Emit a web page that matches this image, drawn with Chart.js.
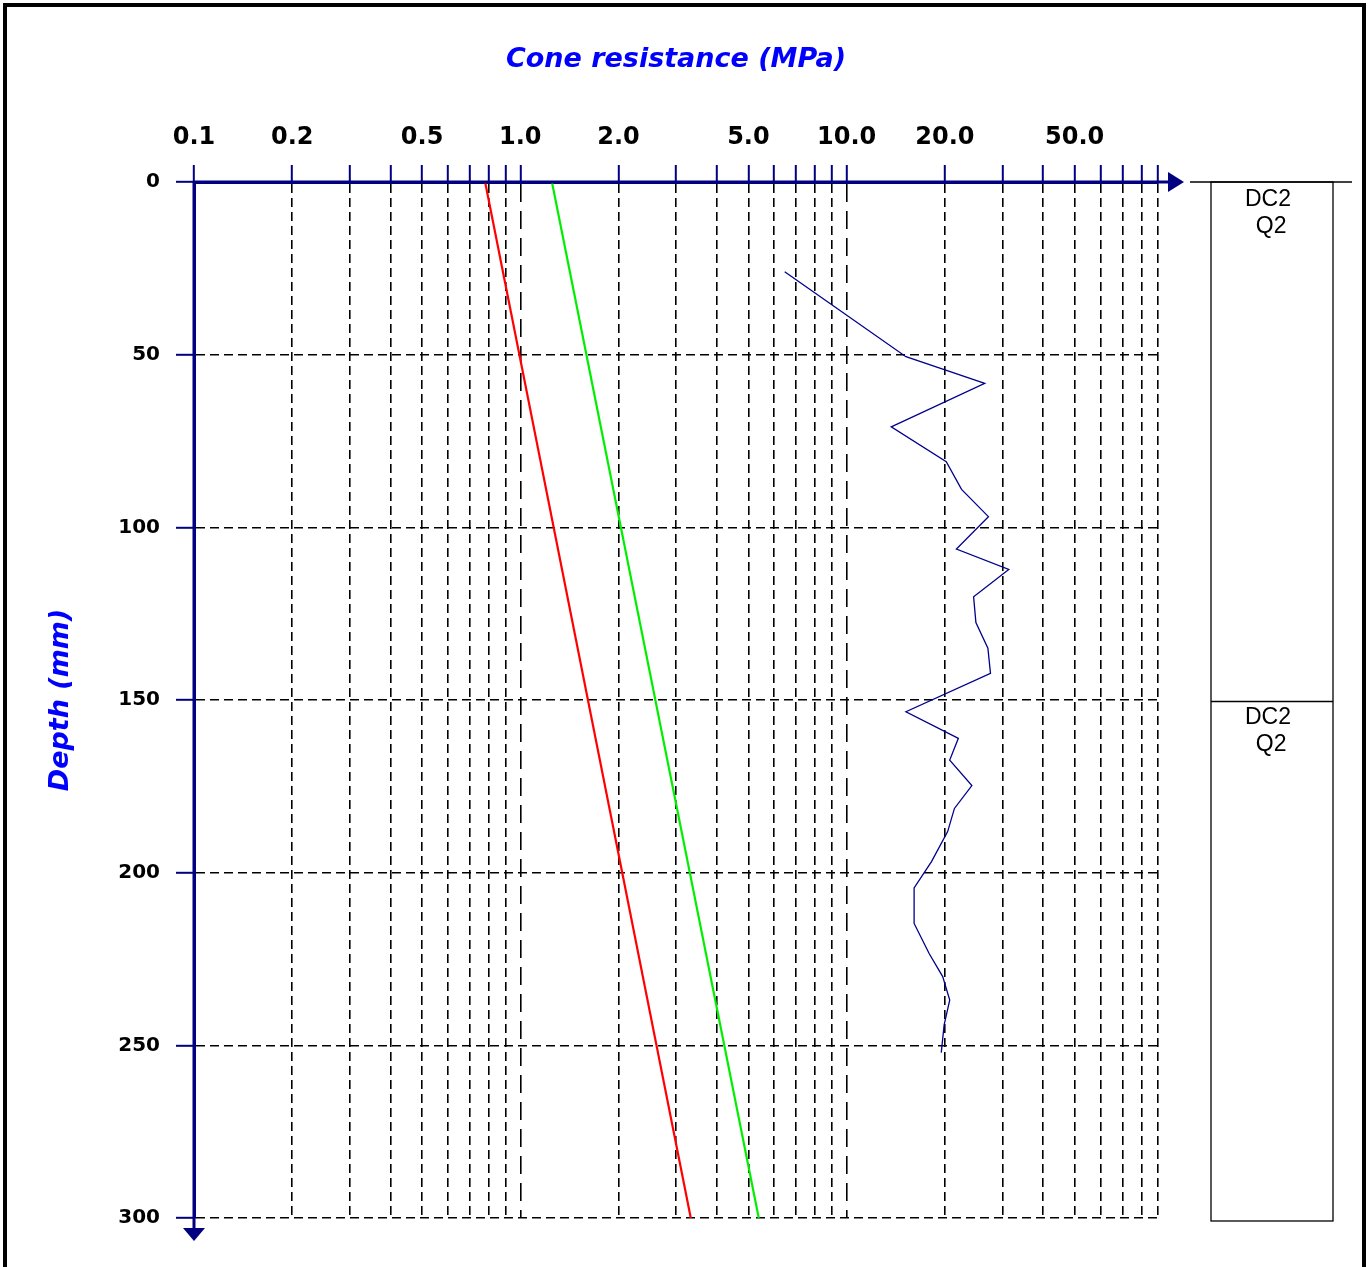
<!DOCTYPE html>
<html>
<head>
<meta charset="utf-8">
<title>Cone resistance</title>
<script src="https://cdn.jsdelivr.net/npm/chart.js@4.4.0/dist/chart.umd.min.js"></script>
<style>
  body { margin: 0; background: #fff; overflow: hidden; }
  #frame {
    position: absolute; left: 3px; top: 3px;
    width: 1363px; height: 1320px;
    box-sizing: border-box; border: 4px solid #000;
  }
  #cpt { position: absolute; left: 0; top: 0; }
</style>
</head>
<body>
<div id="frame"></div>
<canvas id="cpt" width="1372" height="1267"></canvas>
<script>
// measured cone resistance (blue trace)
const depthBlue = [26, 50.6, 58.3, 70.9, 81, 89, 96.9, 106.3, 112.2, 120.1, 127.6, 135, 142.3,
  153.4, 161.1, 167.4, 174.8, 181.4, 188.1, 196.8, 204.4, 214.7, 223.4, 230.1, 236.9, 244.1, 252.1];
const qcBlue = [6.46, 15.2, 26.5, 13.7, 20.2, 22.5, 27.2, 21.7, 31.4, 24.5, 24.9, 27.1, 27.6,
  15.2, 22.0, 20.7, 24.2, 21.4, 20.4, 18.2, 16.1, 16.1, 17.9, 19.7, 20.7, 19.9, 19.5];

// trend lines (red and green)
const depthTrend = [0, 300];
const qcRed = [0.78, 3.33];
const qcGreen = [1.25, 5.38];

// axes
const xGridValues = [0.1, 0.2, 0.3, 0.4, 0.5, 0.6, 0.7, 0.8, 0.9,
  1, 2, 3, 4, 5, 6, 7, 8, 9,
  10, 20, 30, 40, 50, 60, 70, 80, 90];
const xLabelValues = [0.1, 0.2, 0.5, 1, 2, 5, 10, 20, 50];
const xLabelText = ["0.1", "0.2", "0.5", "1.0", "2.0", "5.0", "10.0", "20.0", "50.0"];
const xLongDash = [1, 10];
const depthTicks = [0, 50, 100, 150, 200, 250, 300];

// layer column on the right
const layerTop = [0, 150];
const layerBottom = [150, 300];
const layerText = [["DC2", " Q2"], ["DC2", " Q2"]];

const NAVY = "#000080";

function toPoints(xs, ys) {
  return xs.map((v, i) => ({ x: v, y: ys[i] }));
}

// axis lines with arrows + layer column
const decorPlugin = {
  id: "decor",
  afterDraw(chart) {
    const c = chart.ctx;
    const xs = chart.scales.x;
    const ys = chart.scales.y;
    const x0 = xs.getPixelForValue(0.1);
    const y0 = ys.getPixelForValue(0);
    const yEnd = ys.getPixelForValue(300);

    c.save();
    c.strokeStyle = NAVY;
    c.fillStyle = NAVY;
    c.lineWidth = 3;
    c.beginPath();
    c.moveTo(x0, y0);
    c.lineTo(1172, y0);
    c.moveTo(x0, y0);
    c.lineTo(x0, yEnd + 10);
    c.stroke();
    // arrow heads
    c.beginPath();
    c.moveTo(1168, y0 - 10);
    c.lineTo(1184, y0);
    c.lineTo(1168, y0 + 10);
    c.closePath();
    c.fill();
    c.beginPath();
    c.moveTo(x0 - 11, yEnd + 10);
    c.lineTo(x0, yEnd + 23);
    c.lineTo(x0 + 11, yEnd + 10);
    c.closePath();
    c.fill();

    // layer column
    c.strokeStyle = "#000";
    c.lineWidth = 1.3;
    c.beginPath();
    c.moveTo(1190, y0);
    c.lineTo(1352, y0);
    c.stroke();
    const colTop = ys.getPixelForValue(layerTop[0]);
    const colBot = ys.getPixelForValue(layerBottom[layerBottom.length - 1]) + 3;
    c.strokeRect(1211, colTop, 122, colBot - colTop);
    c.font = "23px 'Liberation Sans', Arial, sans-serif";
    c.fillStyle = "#000";
    c.textAlign = "center";
    c.textBaseline = "middle";
    layerTop.forEach((t, i) => {
      const top = ys.getPixelForValue(t) + 1.5;
      if (i > 0) {
        c.beginPath();
        c.moveTo(1211, top);
        c.lineTo(1333, top);
        c.stroke();
      }
      layerText[i].forEach((s, j) => {
        c.fillText(s, 1268, top + 16 + j * 27);
      });
    });
    c.restore();
  }
};

Chart.defaults.font.family = "'DejaVu Sans', Verdana, sans-serif";

const chart = new Chart(document.getElementById("cpt"), {
  type: "scatter",
  data: {
    datasets: [
      {
        data: toPoints(qcRed, depthTrend),
        showLine: true, borderColor: "#ff0000", borderWidth: 2.2, pointRadius: 0
      },
      {
        data: toPoints(qcGreen, depthTrend),
        showLine: true, borderColor: "#00ee00", borderWidth: 2.2, pointRadius: 0
      },
      {
        data: toPoints(qcBlue, depthBlue),
        showLine: true, borderColor: "#00008c", borderWidth: 1.3, pointRadius: 0
      }
    ]
  },
  options: {
    responsive: false,
    animation: false,
    devicePixelRatio: 1,
    layout: { padding: { left: 0, top: 0, right: 214, bottom: 49 } },
    plugins: { legend: { display: false }, tooltip: { enabled: false } },
    scales: {
      x: {
        type: "logarithmic",
        position: "top",
        min: 0.1,
        max: 90,
        afterBuildTicks: (scale) => {
          scale.ticks = xGridValues.map(v => ({ value: v }));
        },
        afterFit: (scale) => { scale.height = 182; },
        ticks: {
          autoSkip: false,
          maxRotation: 0,
          padding: 13,
          color: "#000",
          font: { size: 24, weight: "bold" },
          callback: (value) => {
            const k = xLabelValues.findIndex(v => Math.abs(v - value) < 1e-9);
            return k >= 0 ? xLabelText[k] : "";
          }
        },
        grid: {
          color: "#000",
          lineWidth: 1.6,
          tickLength: 17,
          tickColor: NAVY,
          tickWidth: 2
        },
        border: {
          display: true, color: NAVY, width: 3,
          dash: (c) => (c.tick && xLongDash.some(v => Math.abs(v - c.tick.value) < 1e-9)) ? [18, 9] : [9, 5]
        },
        title: {
          display: true,
          text: "Cone resistance (MPa)",
          color: "#0000ff",
          font: { size: 27, weight: "bold", style: "italic" },
          padding: { top: 44, bottom: 0 }
        }
      },
      y: {
        type: "linear",
        reverse: true,
        min: 0,
        max: 300,
        afterBuildTicks: (scale) => {
          scale.ticks = depthTicks.map(v => ({ value: v }));
        },
        afterFit: (scale) => { scale.width = 194; },
        ticks: {
          padding: 16,
          color: "#000",
          font: { size: 20, weight: "bold" }
        },
        grid: {
          color: "#000",
          lineWidth: 1.6,
          tickLength: 18,
          tickColor: NAVY,
          tickWidth: 2
        },
        border: { display: true, color: NAVY, width: 3, dash: [9, 5] },
        title: {
          display: true,
          text: "Depth (mm)",
          color: "#0000ff",
          font: { size: 27, weight: "bold", style: "italic" },
          padding: { top: 45, bottom: 0 }
        }
      }
    }
  },
  plugins: [decorPlugin]
});
</script>
</body>
</html>
